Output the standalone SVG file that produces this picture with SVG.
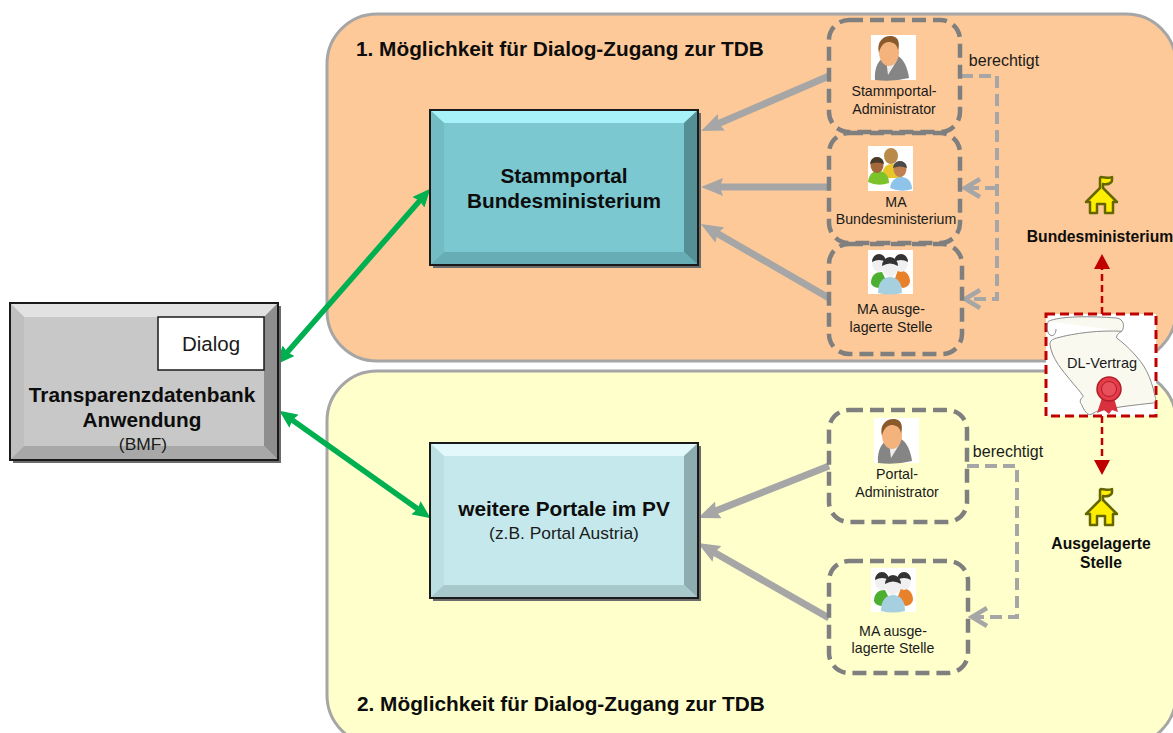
<svg xmlns="http://www.w3.org/2000/svg" width="1173" height="733" viewBox="0 0 1173 733">
<style>
text{font-family:"Liberation Sans",Arial,sans-serif;fill:#1a1a1a;text-anchor:middle}
.t{font-size:20.800px;font-weight:bold;fill:#0d0d0d;text-anchor:start}
.s{font-size:14.200px}
.m{font-size:20.800px;font-weight:bold;fill:#0d0d0d}
.n{font-size:16px}
.p{font-size:17.400px}
.r{font-size:15.700px;font-weight:bold;fill:#0d0d0d}
.d{fill:none;stroke:#7f7f7f;stroke-width:4.500;stroke-dasharray:14 7}
.l{fill:none;stroke:#a6a6a6;stroke-width:4;stroke-dasharray:12 6}
.o{fill:none;stroke:#a6a6a6;stroke-width:4.500}
.g{stroke:#a6a6a6;stroke-width:7;fill:none;marker-end:url(#ga)}
.gr{stroke:#00b050;stroke-width:5.500;fill:none;marker-start:url(#ge);marker-end:url(#ge)}
.rd{stroke:#c00000;stroke-width:2.500;stroke-dasharray:7 4;fill:none}
.edge{fill:none;stroke:#1a1a1a;stroke-width:2}
</style>
<defs>
<marker id="ga" viewBox="0 0 22 18" refX="8" refY="9" markerWidth="22" markerHeight="18" markerUnits="userSpaceOnUse" orient="auto"><path d="M0 0L22 9L0 18L3 9z" fill="#a6a6a6"/></marker>
<marker id="ge" viewBox="0 0 18 16" refX="7" refY="8" markerWidth="18" markerHeight="16" markerUnits="userSpaceOnUse" orient="auto-start-reverse"><path d="M0 0L18 8L0 16L2 8z" fill="#00b050"/></marker>
<g id="person">
<rect width="45" height="45" fill="#fff"/>
<path d="M4 45C3 32 8 24 15 21L20 30L27 21C33 24 37 34 38 43Q22 47 4 45z" fill="#858585"/>
<path d="M15 24L17 40L25 27L26 21z" fill="#eee"/>
<ellipse cx="18" cy="17" rx="10" ry="14" fill="#f4b27c"/>
<path d="M8 18C5 6 13 0 21 1C28 2 29 9 27 15C26 9 22 7 17 7C12 8 9 12 8 18z" fill="#8a5a2b"/>
</g>
<g id="ppl">
<rect width="45" height="44" fill="#fff"/>
<path d="M3 33C3 25 8 22 14 22L20 34L10 38Q4 37 3 33z" fill="#4caf2f"/>
<path d="M42 32C42 24 37 20 30 20L25 34L35 38Q41 37 42 32z" fill="#e8822a"/>
<ellipse cx="11" cy="13" rx="7" ry="9" fill="#f0f0f0"/><path d="M4 12a7 8 0 0 1 14 0q-7-4-14 0z" fill="#333"/>
<ellipse cx="33" cy="13" rx="7" ry="9" fill="#f0f0f0"/><path d="M26 12a7 8 0 0 1 14 0q-7-4-14 0z" fill="#333"/>
<path d="M10 43C10 32 15 27 22 27C29 27 34 32 34 43Q22 46 10 43z" fill="#a6d0e0"/>
<ellipse cx="22" cy="17" rx="7.500" ry="10" fill="#f0f0f0"/><path d="M14 16a8 9 0 0 1 16 0q-8-5-16 0z" fill="#333"/>
</g>
<g id="mapp">
<rect width="45" height="45" fill="#fff"/>
<ellipse cx="23" cy="10" rx="7" ry="8" fill="#b98a4a"/>
<path d="M14 32C14 22 18 18 24 18C30 18 34 22 34 32z" fill="#e8c62a"/>
<path d="M0 36C1 28 5 25 10 25C16 25 21 29 21 37Q10 41 0 36z" fill="#7cc22a"/>
<ellipse cx="9" cy="19" rx="6.500" ry="8" fill="#a5683a"/><path d="M2 18a7 7 0 0 1 14 0q-7-3-14 0z" fill="#4a3a2a"/>
<path d="M22 42C23 35 27 31 33 31C40 31 44 36 44 43Q33 47 22 42z" fill="#8ec4ea"/>
<ellipse cx="32" cy="23" rx="6.500" ry="8" fill="#c08050"/><path d="M25 22a7 7 0 0 1 14 0q-7-3-14 0z" fill="#4a4a4a"/>
</g>
<g id="house">
<path d="M-1 -6L-15 8H-11V19H-4V10H4V19H12V8H16L2 -6V-10C7 -9 11 -11 11 -14V-17C7 -15 4 -17 0 -17L-1 -16z" fill="#ffee00" stroke="#666600" stroke-width="2.500" stroke-linejoin="round"/>
</g>
</defs>

<rect id="panel1" x="327" y="14" width="849" height="347" rx="50" fill="#fdc998" stroke="#a6a6a6" stroke-width="3"/>
<rect id="panel2" x="327" y="371" width="849" height="374" rx="50" fill="#ffffcc" stroke="#a6a6a6" stroke-width="3"/>
<text class="t" x="356" y="56">1. Möglichkeit für Dialog-Zugang zur TDB</text>
<text class="t" x="357" y="711">2. Möglichkeit für Dialog-Zugang zur TDB</text>

<g id="connectors">
<path class="g" d="M829 76L714 125.500"/>
<path class="g" d="M829 187H715"/>
<path class="g" d="M829 298L713 231"/>
<path class="g" d="M829 466L711 512.800"/>
<path class="g" d="M829 618L710 550"/>
<path class="gr" d="M423 197L284 356"/>
<path class="gr" d="M421.700 511.800L288.300 417.200"/>
<path class="l" d="M961 76H997V299H968"/>
<path class="l" d="M997 188H968"/>
<path class="o" d="M980 179L965 188L980 197M980 290L965 299L980 308"/>
<path class="l" d="M967 466H1017V617H975"/>
<path class="o" d="M987 608L972 617L987 626"/>
<path class="rd" d="M1102 314V268"/>
<path class="rd" d="M1102 416V462"/>
<path d="M1102 254L1094 269H1110zM1102 475L1094 460H1110z" fill="#c00000"/>
</g>

<g id="node-tdb">
<rect x="13" y="306" width="268" height="157" fill="#6b6b6b"/>
<rect x="10" y="303" width="268" height="157" fill="#c8c8c8"/>
<path d="M10 303H278L264 317H24z" fill="#e2e2e2"/>
<path d="M10 303L24 317V446L10 460z" fill="#bfbfbf"/>
<path d="M278 303L264 317V446L278 460z" fill="#8e8e8e"/>
<path d="M10 460L24 446H264L278 460z" fill="#a8a8a8"/>
<rect class="edge" x="10" y="303" width="268" height="157"/>
<rect x="158" y="317" width="106" height="53" fill="#fff" stroke="#1a1a1a" stroke-width="1.500"/>
<text x="211" y="351" font-size="20.500">Dialog</text>
<text class="m" x="142" y="402">Transparenzdatenbank</text>
<text class="m" x="142" y="427">Anwendung</text>
<text x="143" y="450" class="p">(BMF)</text>
</g>

<g id="node-stammportal">
<rect x="433" y="113" width="268" height="155" fill="#6b6b6b"/>
<rect x="430" y="110" width="268" height="155" fill="#7cc8d0"/>
<path d="M430 110H698L684 123H444z" fill="#a6f2f8"/>
<path d="M430 110L444 123V252L430 265z" fill="#74bcc4"/>
<path d="M698 110L684 123V252L698 265z" fill="#558f96"/>
<path d="M430 265L444 252H684L698 265z" fill="#66adb5"/>
<rect class="edge" x="430" y="110" width="268" height="155"/>
<text class="m" x="564" y="183">Stammportal</text>
<text class="m" x="564" y="208">Bundesministerium</text>
</g>

<g id="node-portale">
<rect x="433" y="446" width="268" height="155" fill="#6b6b6b"/>
<rect x="430" y="443" width="268" height="155" fill="#c4e8ec"/>
<path d="M430 443H698L684 456H444z" fill="#e2f8fa"/>
<path d="M430 443L444 456V585L430 598z" fill="#bcdfe3"/>
<path d="M698 443L684 456V585L698 598z" fill="#8cacb0"/>
<path d="M430 598L444 585H684L698 598z" fill="#a8c8cc"/>
<rect class="edge" x="430" y="443" width="268" height="155"/>
<text class="m" x="564" y="516">weitere Portale im PV</text>
<text x="564" y="539" class="p">(z.B. Portal Austria)</text>
</g>

<g id="node-stammadmin">
<rect class="d" x="829" y="20" width="131" height="112" rx="20"/>
<use href="#person" x="871" y="35"/>
<text class="s" x="894" y="96">Stammportal-</text>
<text class="s" x="894" y="114">Administrator</text>
</g>
<g id="node-ma-bm">
<rect class="d" x="829" y="133" width="131" height="110" rx="20"/>
<use href="#mapp" x="868" y="146"/>
<text class="s" x="896" y="207">MA</text>
<text class="s" x="896" y="224">Bundesministerium</text>
</g>
<g id="node-ma-stelle1">
<rect class="d" x="829" y="244" width="133" height="110" rx="20"/>
<use href="#ppl" x="868" y="250"/>
<text class="s" x="891" y="314">MA ausge-</text>
<text class="s" x="891" y="332">lagerte Stelle</text>
</g>
<g id="node-portaladmin">
<rect class="d" x="829" y="410" width="138" height="112" rx="20"/>
<use href="#person" x="874" y="418"/>
<text class="s" x="897" y="479">Portal-</text>
<text class="s" x="897" y="497">Administrator</text>
</g>
<g id="node-ma-stelle2">
<rect class="d" x="829" y="561" width="139" height="112" rx="20"/>
<use href="#ppl" x="871" y="568"/>
<text class="s" x="893" y="636">MA ausge-</text>
<text class="s" x="893" y="653">lagerte Stelle</text>
</g>

<text x="1004" y="66" class="n">berechtigt</text>
<text x="1008" y="457" class="n">berechtigt</text>

<g id="node-bm">
<use href="#house" x="1101" y="194"/>
<text class="r" x="1100" y="242">Bundesministerium</text>
</g>
<g id="node-stelle">
<use href="#house" x="1101" y="506"/>
<text class="r" x="1101" y="549">Ausgelagerte</text>
<text class="r" x="1101" y="568">Stelle</text>
</g>
<g id="node-dl">
<rect x="1046" y="314" width="110" height="102" fill="#fff" stroke="#c00000" stroke-width="3" stroke-dasharray="9 5"/>
<path d="M1048.300 321.300C1060 316 1090 316 1116.700 318C1124 319 1125 327 1121.700 331.300C1100 330 1075 333 1056.700 338C1049 340 1050 344 1050 344.700C1051 352 1054 358 1058.300 364.700C1062 370 1066 375 1070 379.700C1075 386 1080 391 1083.300 396.300C1079 400 1080 403 1081.700 404.700C1084 411 1088 415 1090 414.700C1093 414 1095 412 1096.700 411.300C1115 407 1135 405 1153.300 403C1156 401 1156 398 1155 396.300C1153 386 1150 378 1146.700 371.300C1143 364 1138 358 1133.300 353C1128 347 1122 342 1116.700 338C1116 335 1119 333 1121.700 331.300" fill="#f9f9f0" stroke="#8c8c8c" stroke-width="1"/>
<path d="M1048.300 321.300C1047 324 1046 332 1050 335C1053 337 1056 334 1056 329" fill="none" stroke="#8c8c8c" stroke-width="1"/>
<path d="M1102 398L1097 413L1104 410L1109 414L1112 410L1118 412L1114 398z" fill="#d8303c"/>
<circle cx="1109" cy="389" r="12" fill="#e63c4a" stroke="#b01c28" stroke-width="1.500"/>
<circle cx="1109" cy="389" r="7.500" fill="#e8505c" stroke="#b01c28"/>
<text x="1102" y="368" font-size="14.500">DL-Vertrag</text>
</g>
</svg>
